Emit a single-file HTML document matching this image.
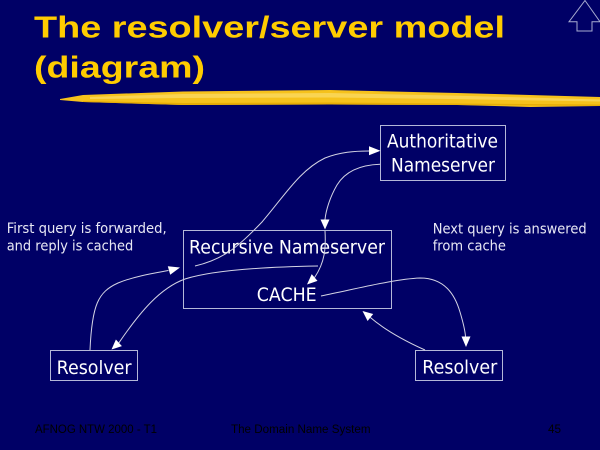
<!DOCTYPE html>
<html>
<head>
<meta charset="utf-8">
<style>
  html, body { margin: 0; padding: 0; background: #000066; }
  body { width: 600px; height: 450px; overflow: hidden; }
  svg { display: block; }
</style>
</head>
<body>
<svg width="600" height="450" viewBox="0 0 600 450" xmlns="http://www.w3.org/2000/svg">
  <rect x="0" y="0" width="600" height="450" fill="#000066"/>

  <!-- Title -->
  <text x="34" y="37.5" font-family="Liberation Sans, Arial, sans-serif" font-weight="bold" font-size="31" fill="#FFCC00" textLength="471" lengthAdjust="spacingAndGlyphs">The resolver/server model</text>
  <text x="34" y="77.5" font-family="Liberation Sans, Arial, sans-serif" font-weight="bold" font-size="31" fill="#FFCC00" textLength="171" lengthAdjust="spacingAndGlyphs">(diagram)</text>

  <!-- Brush stroke -->
  <polygon points="60,99 83,95 183,91.5 330,90 457,93 530,95 600,97 600,106 530,107 457,105 330,104.5 183,105 83,102 60,100" fill="#F6C21C"/>
  <polygon points="90,97 183,94 330,93 450,95.5 600,99.5 600,101.5 450,99 330,97.5 183,98 90,99" fill="#FAD860" opacity="0.8"/>
  <polygon points="83,101 183,103 330,102.5 457,103.5 600,104.5 600,106 457,105 330,104.5 183,105 83,102" fill="#E3A800" opacity="0.8"/>

  <!-- Up arrow icon -->
  <polygon points="585,0.5 600,21.7 592,21.7 592,31 577,31 577,21.7 569,21.7" fill="none" stroke="#a8acd0" stroke-width="1"/>

  <!-- Boxes -->
  <g fill="none" stroke="#b4b8d8" stroke-width="1">
    <rect x="380.5" y="125.5" width="125" height="55"/>
    <rect x="183.5" y="230.5" width="208" height="78"/>
    <rect x="50.5" y="350.5" width="87" height="30"/>
    <rect x="415.5" y="350.5" width="87" height="30"/>
  </g>

  <!-- Box labels -->
  <g font-family="DejaVu Sans, Verdana, sans-serif" font-size="19" fill="#ffffff">
    <text x="387" y="147.3" textLength="111" lengthAdjust="spacingAndGlyphs">Authoritative</text>
    <text x="391" y="171.7" textLength="104" lengthAdjust="spacingAndGlyphs">Nameserver</text>
    <text x="189" y="253.3" textLength="196" lengthAdjust="spacingAndGlyphs">Recursive Nameserver</text>
    <text x="256.7" y="301" textLength="60" lengthAdjust="spacingAndGlyphs">CACHE</text>
    <text x="56.6" y="374" textLength="75" lengthAdjust="spacingAndGlyphs">Resolver</text>
    <text x="422.3" y="373.5" textLength="75" lengthAdjust="spacingAndGlyphs">Resolver</text>
  </g>

  <!-- Side labels -->
  <g font-family="DejaVu Sans, Verdana, sans-serif" font-size="14" fill="#e8e8f4">
    <text x="6.7" y="233" textLength="160" lengthAdjust="spacingAndGlyphs">First query is forwarded,</text>
    <text x="6.7" y="250.7" textLength="126.6" lengthAdjust="spacingAndGlyphs">and reply is cached</text>
    <text x="432.7" y="233.3" textLength="154" lengthAdjust="spacingAndGlyphs">Next query is answered</text>
    <text x="432.7" y="250.7" textLength="73.3" lengthAdjust="spacingAndGlyphs">from cache</text>
  </g>

  <!-- Connectors -->
  <g fill="none" stroke="#d4d4e4" stroke-width="1">
    <path d="M90,350 C92,305 98,292 118,283 C135,276 155,273 168.5,270.5"/>
    <path d="M318,266 C260,267 210,271 185,279 C160,288 140,312 118.9,342.8"/>
    <path d="M195,266 C225,259 240,245 262,222 C285,195 300,170 325,158 C340,152 355,151 369,151"/>
    <path d="M380,164.3 C360,165 345,172 337,185 C330,197 326,210 325,219.5"/>
    <path d="M325,231 C326,248 325,262 314.6,277.5"/>
    <path d="M321,296 C360,288 395,279 420,278 C445,278 455,295 460,312 C463,322 465,330 465.5,336.5"/>
    <path d="M425,350 C405,341 385,330 370.4,317.5"/>
  </g>

  <!-- Arrowheads -->
  <g fill="#ffffff">
    <polygon points="180,267.5 170.2,274.8 167.8,266.2"/>
    <polygon points="111.5,349.5 121.9,346.1 115.9,339.5"/>
    <polygon points="380.5,150.7 369,146.2 369,155.2"/>
    <polygon points="325,229.5 320.5,219.5 329.5,219.5"/>
    <polygon points="307,284.5 317.5,280.9 311.7,274.1"/>
    <polygon points="466,347 461.5,336.5 470.5,336.5"/>
    <polygon points="362.5,311 373.2,314 367.6,321"/>
  </g>

  <!-- Footer -->
  <g font-family="Liberation Sans, Arial, sans-serif" font-size="11.5" fill="#000000">
    <text x="35" y="433" textLength="122" lengthAdjust="spacingAndGlyphs">AFNOG NTW 2000 - T1</text>
    <text x="231" y="433" textLength="139.5" lengthAdjust="spacingAndGlyphs">The Domain Name System</text>
    <text x="548" y="433" textLength="13" lengthAdjust="spacingAndGlyphs">45</text>
  </g>
</svg>
</body>
</html>
